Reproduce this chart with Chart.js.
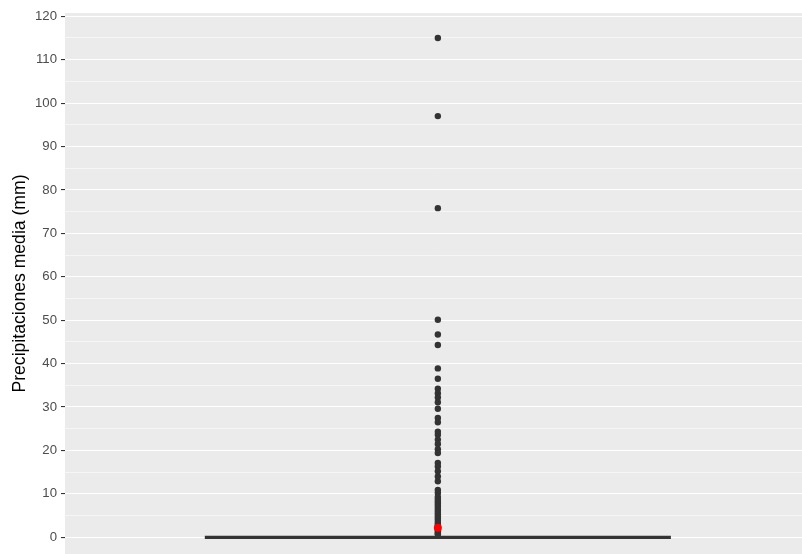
<!DOCTYPE html>
<html>
<head>
<meta charset="utf-8">
<script src="https://cdn.jsdelivr.net/npm/chart.js@4/dist/chart.umd.min.js"></script>
<style>
  html, body { margin: 0; padding: 0; background: #ffffff; overflow: hidden; }
  canvas { display: block; }
</style>
</head>
<body>
<canvas id="c" width="802" height="554" style="width:802px;height:554px"></canvas>
<script>
// ---- data ----
const categories = ['Precipitaciones'];
// box statistics: [min, q1, median, q3, max] (collapsed at 0)
const boxStats = [0, 0, 0, 0, 0];
const meanValue = 2.2;
const outlierValues = [
  115, 97, 75.8, 50.1, 46.7, 44.3, 38.9, 36.5, 34.2, 33.2, 32.2, 31.1, 29.6,
  27.5, 26.5, 24.3, 23.6, 22.5, 21.5, 20.3, 19.4, 17.1, 16.3, 15.2, 14.0,
  12.9, 10.9, 10.2, 9.3, 8.8, 8.3, 7.8, 7.3, 6.8, 6.3, 5.8, 5.3, 4.8, 4.3,
  3.8, 3.3, 2.9, 2.5, 2.0, 1.6, 1.2, 0.9, 0.7
];
const yTickStep = 10;
const yTickMax = 120;
const yLabel = 'Precipitaciones media (mm)';

// ---- chart ----
const catX = 1;            // position of the single category
const boxHalf = 0.375;     // ggplot default box width 0.75

const panelBg = {
  id: 'panelBg',
  beforeDraw(chart) {
    const { ctx, chartArea: a } = chart;
    ctx.save();
    ctx.fillStyle = '#EBEBEB';
    ctx.fillRect(a.left, a.top, a.right - a.left, a.bottom - a.top);
    ctx.restore();
  }
};

const isMajor = v => Math.abs(v % yTickStep) < 1e-9 && v >= 0 && v <= yTickMax;

new Chart(document.getElementById('c'), {
  type: 'scatter',
  data: {
    datasets: [
      {
        label: 'box',
        type: 'line',
        data: [
          { x: catX - boxHalf, y: boxStats[2] },
          { x: catX + boxHalf, y: boxStats[2] }
        ],
        borderColor: '#333333',
        borderWidth: 3.2,
        pointRadius: 0,
        order: 3
      },
      {
        label: 'outliers',
        data: outlierValues.map(v => ({ x: catX, y: v })),
        backgroundColor: '#333333',
        borderWidth: 0,
        pointRadius: 3.2,
        order: 2
      },
      {
        label: 'mean',
        data: [{ x: catX, y: meanValue }],
        backgroundColor: '#FF0000',
        borderWidth: 0,
        pointRadius: 4,
        order: 1
      }
    ]
  },
  options: {
    responsive: false,
    animation: false,
    devicePixelRatio: 1,
    layout: { autoPadding: false, padding: { top: 13, right: 0, bottom: 0, left: 0 } },
    plugins: { legend: { display: false }, tooltip: { enabled: false } },
    scales: {
      x: {
        type: 'linear',
        min: 0.4,
        max: 1.586,
        display: false
      },
      y: {
        type: 'linear',
        min: -3.85,
        max: 120.75,
        afterFit(s) { s.width = 65; s.paddingTop = 0; s.paddingBottom = 0; },
        border: { display: false },
        grid: {
          color: ctx => (ctx.tick && Math.abs(ctx.tick.value % 5) < 1e-9) ? '#FFFFFF' : 'rgba(0,0,0,0)',
          lineWidth: ctx => (ctx.tick && Math.abs(ctx.tick.value % 10) < 1e-9) ? 1.1 : 0.55,
          drawTicks: true,
          tickLength: 4,
          tickColor: ctx => (ctx.tick && isMajor(ctx.tick.value)) ? '#333333' : 'rgba(0,0,0,0)',
          tickWidth: 1.1
        },
        ticks: {
          stepSize: yTickStep / 2,
          includeBounds: false,
          padding: 4,
          color: '#4D4D4D',
          font: { family: 'Liberation Sans, Arial, sans-serif', size: 13.2 },
          callback: v => isMajor(v) ? String(v) : ''
        },
        title: {
          display: true,
          text: yLabel,
          color: '#000000',
          font: { family: 'Liberation Sans, Arial, sans-serif', size: 17.6 },
          padding: { top: 10, bottom: 0 }
        }
      }
    }
  },
  plugins: [panelBg]
});
</script>
</body>
</html>
